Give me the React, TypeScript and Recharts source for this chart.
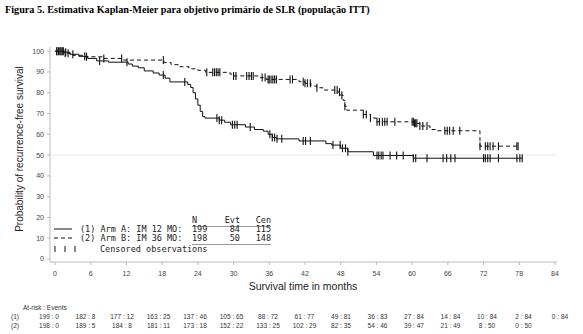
import React from "react";
import { ComposedChart, Line, Scatter, XAxis, YAxis, ReferenceLine } from "recharts";

// Kaplan-Meier steps, [months, % recurrence-free]
const armA: [number, number][] = [
  [0, 100], [1.5, 99.5], [2.5, 98.5], [4, 97.5], [5.5, 96.5], [7, 95.3], [9, 94.7],
  [12.3, 93.8], [13, 92.8], [14, 92], [15, 90.5], [16.5, 89.5], [17.5, 88.5], [18.5, 87],
  [19.3, 85.2], [22.3, 84], [22.8, 82.5], [23.2, 80], [23.6, 77], [24, 74], [24.4, 71],
  [24.8, 68.5], [25.2, 67.8], [27.6, 66.8], [28.5, 65.8], [29.5, 64.6], [32, 63.5],
  [33.5, 62.3], [35, 61.5], [35.8, 60], [36.5, 58.5], [37.2, 57.8], [41, 56.8],
  [45.5, 55.5], [46.5, 54.8], [48, 53.3], [49.2, 51.6], [53.5, 49.8], [60.2, 48.5],
  [78.5, 48.5],
];
const armB: [number, number][] = [
  [0, 100], [1.5, 99], [3, 98], [5, 97.3], [8, 96.5], [11.5, 95.7], [18.3, 94.5],
  [19.5, 93.5], [21, 92.5], [22.5, 91.5], [24, 90.8], [25.3, 89.8], [29.4, 89],
  [30, 88.1], [34.5, 87.3], [35.5, 86.4], [41, 85.3], [42, 84.5], [43, 83.2], [44, 82.4],
  [45, 81.3], [47.5, 80.3], [48, 78.8], [48.4, 76.4], [48.7, 73.5], [49, 71.6],
  [51.8, 69.5], [53, 67.8], [54, 66], [60.3, 65.3], [61.3, 64], [63, 62.3], [64.2, 61.7],
  [71.4, 54.3], [77.8, 54.3],
];

// censored observation times (months)
const censA = [
  0.3, 0.7, 1, 1.4, 1.8, 3, 5, 7.5, 12.1, 18.2, 21.8, 27.2, 27.6, 28, 29.8, 30.2, 30.6,
  32.8, 36.1, 36.5, 36.9, 37.3, 38.1, 41.7, 42.1, 42.9, 46.7, 47.9, 48.3, 48.8, 49.2,
  54.1, 54.4, 54.8, 55.1, 56.3, 57.4, 58.5, 60.2, 60.6, 62.5, 65.2, 65.8, 66.5, 67.2,
  72, 72.3, 72.7, 73.1, 74.5, 77.6, 78.1, 78.5,
];
const censB = [
  0.3, 0.6, 1, 1.3, 1.7, 2.2, 5.3, 8.2, 11.2, 18.2, 25.5, 26.5, 26.8, 27.1, 27.4, 27.7,
  30, 30.4, 32.2, 32.6, 33, 33.3, 34.8, 35.3, 35.8, 36, 36.3, 36.6, 36.9, 37.2, 39.5,
  39.9, 41.7, 42, 42.4, 42.9, 44, 47, 47.4, 47.8, 48.2, 48.7, 51.8, 52.3, 53, 54.1,
  54.5, 55, 55.4, 55.8, 57.1, 60, 60.2, 60.4, 60.6, 60.8, 61.3, 61.8, 62.5, 65.5, 65.9,
  66.3, 66.9, 68, 71.4, 72.3, 72.7, 73.1, 73.6, 74.5, 77.6, 77.8,
];

const xTicks = [0, 6, 12, 18, 24, 30, 36, 42, 48, 54, 60, 66, 72, 78, 84];
const yTicks = [0, 10, 20, 30, 40, 50, 60, 70, 80, 90, 100];

const atRiskA = [199, 182, 177, 163, 137, 105, 88, 61, 49, 36, 27, 14, 10, 2, 0];
const eventsA = [0, 8, 12, 25, 46, 65, 72, 77, 81, 83, 84, 84, 84, 84, 84];
const atRiskB = [198, 189, 184, 181, 173, 152, 133, 102, 82, 54, 39, 21, 8, 0];
const eventsB = [0, 5, 8, 11, 18, 22, 25, 29, 35, 46, 47, 49, 50, 50];

const toRows = (pts: [number, number][]) => pts.map(([t, s]) => ({ t, s }));
const survAt = (steps: [number, number][], t: number) => {
  let s = steps[0][1];
  for (const [tt, ss] of steps) {
    if (tt <= t) s = ss;
    else break;
  }
  return s;
};
const censRows = (times: number[], steps: [number, number][]) =>
  times.map((t) => ({ t, s: survAt(steps, t) }));

const Tick = (props: any) => (
  <line x1={props.cx} x2={props.cx} y1={props.cy - 4} y2={props.cy + 4} stroke="#111" strokeWidth={1.1} />
);

const sans = "'Liberation Sans', Arial, sans-serif";
const mono = "'DejaVu Sans Mono', monospace";

export default function App() {
  const tickStyle = { fontSize: 7, fill: "#444", fontFamily: sans };
  return (
    <div style={{ position: "absolute", left: 0, top: 0, width: 583, height: 334, background: "#fff" }}>
      <ComposedChart
        width={583}
        height={300}
        margin={{ top: 47, right: 26, left: 0, bottom: 0 }}
      >
        <XAxis
          dataKey="t"
          type="number"
          domain={[-0.84, 84.34]}
          ticks={xTicks}
          allowDataOverflow
          height={38}
          tickSize={3}
          tickMargin={6}
          stroke="#bbb"
          tick={tickStyle}
        />
        <YAxis
          type="number"
          domain={[-1.44, 102]}
          ticks={yTicks}
          allowDataOverflow
          width={50}
          tickSize={3}
          tickMargin={3}
          stroke="#bbb"
          tick={tickStyle}
        />
        <ReferenceLine y={50} stroke="#e6e6e6" />
        <Line data={toRows(armA)} dataKey="s" type="stepAfter" stroke="#111" strokeWidth={1} dot={false} isAnimationActive={false} />
        <Line data={toRows(armB)} dataKey="s" type="stepAfter" stroke="#111" strokeWidth={1} strokeDasharray="4 3" dot={false} isAnimationActive={false} />
        <Scatter data={censRows(censA, armA)} dataKey="s" shape={Tick} isAnimationActive={false} />
        <Scatter data={censRows(censB, armB)} dataKey="s" shape={Tick} isAnimationActive={false} />
      </ComposedChart>

      <svg width={583} height={334} style={{ position: "absolute", left: 0, top: 0, pointerEvents: "none" }}>
        <text x={5} y={13} fontFamily="'Liberation Serif', serif" fontWeight="bold" fontSize={10.2} fill="#000">
          Figura 5. Estimativa Kaplan-Meier para objetivo primário de SLR (população ITT)
        </text>
        <text transform="translate(23,149) rotate(-90)" textAnchor="middle" fontFamily={sans} fontSize={10} fill="#222">
          Probability of recurrence-free survival
        </text>
        <text x={303} y={290} textAnchor="middle" fontFamily={sans} fontSize={10.5} fill="#222">
          Survival time in months
        </text>

        {/* legend */}
        <g fontFamily={mono} fontSize={8.5} fill="#222">
          <text x={192} y={223}>N</text>
          <text x={240} y={223} textAnchor="end">Evt</text>
          <text x={271} y={223} textAnchor="end">Cen</text>
          <line x1={192} x2={271} y1={226.5} y2={226.5} stroke="#999" />
          <line x1={54} x2={72} y1={229} y2={229} stroke="#111" />
          <text x={80} y={232}>(1) Arm A: IM 12 MO:</text>
          <text x={192} y={232}>199</text>
          <text x={240} y={232} textAnchor="end">84</text>
          <text x={271} y={232} textAnchor="end">115</text>
          <line x1={54} x2={73} y1={238} y2={238} stroke="#111" strokeDasharray="4 3" />
          <text x={80} y={241}>(2) Arm B: IM 36 MO:</text>
          <text x={192} y={241}>198</text>
          <text x={240} y={241} textAnchor="end">50</text>
          <text x={271} y={241} textAnchor="end">148</text>
          <line x1={192} x2={271} y1={244.5} y2={244.5} stroke="#999" />
          <line x1={55} x2={55} y1={246} y2={252} stroke="#111" />
          <line x1={65} x2={65} y1={246} y2={252} stroke="#111" />
          <line x1={75} x2={75} y1={246} y2={252} stroke="#111" />
          <text x={100} y={252}>Censored observations</text>
        </g>

        {/* at-risk table */}
        <g fontFamily={sans} fontSize={6.5} fill="#333">
          <text x={23} y={310}>At-risk : Events</text>
          <text x={11} y={319}>(1)</text>
          <text x={11} y={328}>(2)</text>
          {atRiskA.map((n, i) => (
            <text key={"a" + i} x={49 + i * 36.5} y={319} textAnchor="middle">{`${n} : ${eventsA[i]}`}</text>
          ))}
          {atRiskB.map((n, i) => (
            <text key={"b" + i} x={49 + i * 36.5} y={328} textAnchor="middle">{`${n} : ${eventsB[i]}`}</text>
          ))}
        </g>
      </svg>
    </div>
  );
}
